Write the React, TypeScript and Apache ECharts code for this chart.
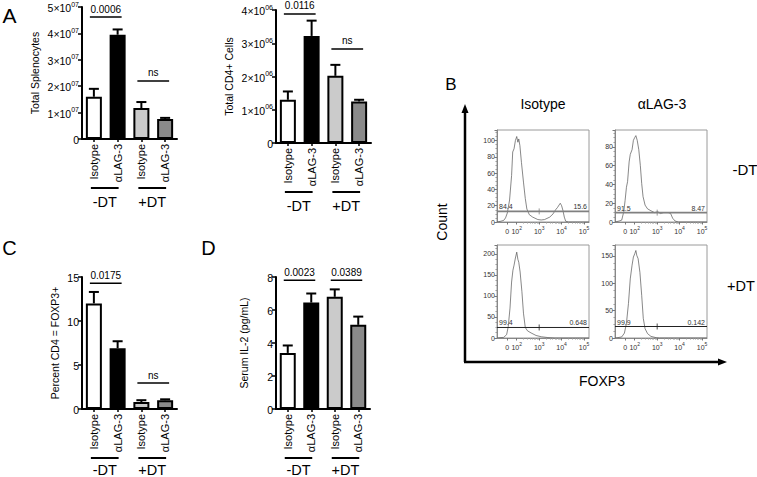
import React, { useEffect, useRef } from 'react';
import * as echarts from 'echarts';

const FONT = '"Liberation Sans", Arial, Helvetica, sans-serif';

// ---- bar panels (A, C, D) ----
const categories = ['Isotype', 'αLAG-3', 'Isotype', 'αLAG-3'];
const treatmentGroups = ['-DT', '+DT'];
const treatmentSpans = [[0, 1], [2, 3]];

const splenocyteMean = [1.6e7, 3.95e7, 1.17e7, 0.76e7];
const splenocyteUpper = [1.9e7, 4.15e7, 1.4e7, 0.8e7];
const cd4Mean = [1.3e6, 3.22e6, 2.02e6, 1.25e6];
const cd4Upper = [1.55e6, 3.68e6, 2.35e6, 1.3e6];
const foxp3Mean = [12.0, 6.9, 0.8, 1.0];
const foxp3Upper = [13.3, 7.7, 1.0, 1.1];
const il2Mean = [3.4, 6.45, 6.8, 5.1];
const il2Upper = [3.85, 7.0, 7.25, 5.6];

const splenocyteSig = [[0, 1, 4.62e7], [2, 3, 2.2e7]];
const splenocyteSigText = ['0.0006', 'ns'];
const cd4Sig = [[0, 1, 3.88e6], [2, 3, 2.83e6]];
const cd4SigText = ['0.0116', 'ns'];
const foxp3Sig = [[0, 1, 14.3], [2, 3, 2.95]];
const foxp3SigText = ['0.0175', 'ns'];
const il2Sig = [[0, 1, 7.8], [2, 3, 7.8]];
const il2SigText = ['0.0023', '0.0389'];

const barColors = ['#ffffff', '#000000', '#cbcbcb', '#8a8a8a'];

// ---- flow panels (B) ----
const flowColumns = ['Isotype', 'αLAG-3'];
const flowRows = ['-DT', '+DT'];
const flowXMin = 1.12;
const flowXMax = 5.22;
const flowXTicks = [1.58, 2, 3, 4, 5];
const flowXTickText = ['0', '10^2', '10^3', '10^4', '10^5'];
const flowYMax = [113, 98, 221, 170];
const flowYInterval = [20, 20, 50, 50];
const gateLevels = [13, 10, 25, 21];
const gateLeftText = ['84.4', '91.5', '99.4', '99.9'];
const gateRightText = ['15.6', '8.47', '0.648', '0.142'];

const histIsotypeMinusDT = [
  [1.12, 0], [1.3, 1], [1.42, 2], [1.5, 5], [1.58, 11], [1.68, 27], [1.77, 57], [1.82, 86],
  [1.88, 90], [1.94, 100], [2.0, 105], [2.05, 98], [2.09, 102], [2.14, 94], [2.21, 73],
  [2.3, 49], [2.38, 29], [2.45, 16], [2.56, 9], [2.71, 6], [2.94, 3], [3.09, 2.5], [3.24, 3],
  [3.47, 6], [3.62, 10], [3.73, 15], [3.82, 18], [3.89, 21], [3.94, 23], [4.0, 20],
  [4.06, 14], [4.12, 6], [4.18, 1], [4.3, 0], [5.22, 0],
];
const histLag3MinusDT = [
  [1.12, 0], [1.3, 1], [1.42, 2], [1.51, 11], [1.57, 23], [1.63, 37], [1.68, 43], [1.75, 64],
  [1.8, 72], [1.88, 77], [1.94, 87], [2.0, 90], [2.05, 92], [2.11, 87], [2.18, 77],
  [2.25, 60], [2.31, 41], [2.37, 27], [2.46, 18], [2.57, 14], [2.72, 12], [2.88, 10],
  [3.03, 11], [3.14, 9], [3.29, 10], [3.49, 10], [3.6, 9], [3.69, 4], [3.8, 1], [3.95, 0],
  [5.22, 0],
];
const histIsotypePlusDT = [
  [1.12, 0], [1.3, 1], [1.42, 1.5], [1.55, 8], [1.62, 27], [1.7, 71], [1.77, 133], [1.83, 161],
  [1.88, 173], [1.94, 190], [2.0, 204], [2.05, 187], [2.09, 180], [2.15, 157], [2.23, 110],
  [2.3, 59], [2.38, 25], [2.48, 17], [2.64, 12], [2.86, 6], [3.09, 3], [3.39, 1], [3.7, 0],
  [5.22, 0],
];
const histLag3PlusDT = [
  [1.12, 0], [1.3, 1], [1.42, 2], [1.54, 9], [1.63, 27], [1.72, 63], [1.8, 108], [1.88, 133],
  [1.94, 148], [2.0, 154], [2.05, 160], [2.09, 151], [2.15, 145], [2.23, 120], [2.31, 78],
  [2.38, 36], [2.46, 17], [2.57, 8], [2.72, 3], [2.95, 0.6], [3.1, 0], [5.22, 0],
];

function buildOption(): any {
  const barPanels = [
    { mean: splenocyteMean, upper: splenocyteUpper, sig: splenocyteSig, sigText: splenocyteSigText,
      max: 5e7, interval: 1e7, name: 'Total Splenocytes', nameGap: 42, exp: '07', div: 1e7, textOffset: 14,
      grid: { left: 82, top: 7, width: 95, height: 132 } },
    { mean: cd4Mean, upper: cd4Upper, sig: cd4Sig, sigText: cd4SigText,
      max: 4e6, interval: 1e6, name: 'Total CD4+ Cells', nameGap: 42, exp: '06', div: 1e6, textOffset: 14,
      grid: { left: 276, top: 10, width: 95, height: 133 } },
    { mean: foxp3Mean, upper: foxp3Upper, sig: foxp3Sig, sigText: foxp3SigText,
      max: 15, interval: 5, name: 'Percent CD4 = FOXP3+', nameGap: 22, exp: '', div: 1, textOffset: 11.5,
      grid: { left: 82, top: 277, width: 95, height: 132 } },
    { mean: il2Mean, upper: il2Upper, sig: il2Sig, sigText: il2SigText,
      max: 8, interval: 2, name: 'Serum IL-2 (pg/mL)', nameGap: 27, exp: '', div: 1, textOffset: 11.5,
      grid: { left: 276, top: 277, width: 94, height: 132 } },
  ];
  const flowPlots = [
    { data: histIsotypeMinusDT, grid: { left: 497, top: 130, width: 92, height: 92 }, gateColor: '#808080', gateWidth: 1.6 },
    { data: histLag3MinusDT, grid: { left: 615, top: 130, width: 92, height: 92 }, gateColor: '#808080', gateWidth: 1.6 },
    { data: histIsotypePlusDT, grid: { left: 497, top: 245, width: 92, height: 93 }, gateColor: '#222', gateWidth: 1 },
    { data: histLag3PlusDT, grid: { left: 615, top: 245, width: 92, height: 93 }, gateColor: '#222', gateWidth: 1 },
  ];

  const grid: any[] = [];
  const xAxis: any[] = [];
  const yAxis: any[] = [];
  const series: any[] = [];

  barPanels.forEach((p, i) => {
    grid.push({ ...p.grid, show: false, containLabel: false });
    xAxis.push({
      type: 'category', gridIndex: i, data: categories,
      axisLine: { show: true, lineStyle: { color: '#000', width: 2 } },
      axisTick: { show: true, alignWithLabel: true, length: 3, lineStyle: { color: '#000', width: 1.5 } },
      axisLabel: { rotate: 90, interval: 0, fontSize: 11, color: '#000', margin: 5, fontFamily: FONT },
      splitLine: { show: false },
    });
    yAxis.push({
      type: 'value', gridIndex: i, min: 0, max: p.max, interval: p.interval,
      axisLine: { show: true, lineStyle: { color: '#000', width: 2 } },
      axisTick: { show: true, length: 4, lineStyle: { color: '#000', width: 1.5 } },
      splitLine: { show: false },
      axisLabel: {
        color: '#000', margin: 3, fontFamily: FONT, fontSize: 10,
        formatter: (v: number) => {
          if (!p.exp || v === 0) return '{b|' + v + '}';
          return '{b|' + Math.round(v / p.div) + '×10}{s|' + p.exp + '}';
        },
        rich: {
          b: { fontSize: 10.5, lineHeight: 13, verticalAlign: 'bottom', fontFamily: FONT, color: '#000' },
          s: { fontSize: 7, lineHeight: 13, verticalAlign: 'top', fontFamily: FONT, color: '#000' },
        },
      },
      name: p.name, nameLocation: 'middle', nameRotate: 90, nameGap: p.nameGap,
      nameTextStyle: { fontSize: 10.5, color: '#000', fontFamily: FONT },
    });
    series.push({
      type: 'bar', xAxisIndex: i, yAxisIndex: i, barWidth: 16, z: 2,
      data: p.mean.map((v, k) => ({
        value: v,
        itemStyle: { color: barColors[k], borderColor: '#000', borderWidth: 2 },
      })),
    });
    series.push({
      type: 'custom', xAxisIndex: i, yAxisIndex: i, z: 3,
      data: p.mean.map((m, k) => [k, m, p.upper[k]]),
      encode: { x: 0, y: [1, 2] },
      renderItem: (params: any, api: any) => {
        const base = api.coord([api.value(0), api.value(1)]);
        const top = api.coord([api.value(0), api.value(2)]);
        return {
          type: 'group',
          children: [
            { type: 'line', shape: { x1: base[0], y1: base[1], x2: top[0], y2: top[1] }, style: { stroke: '#000', lineWidth: 2 } },
            { type: 'line', shape: { x1: top[0] - 5, y1: top[1], x2: top[0] + 5, y2: top[1] }, style: { stroke: '#000', lineWidth: 2 } },
          ],
        };
      },
    });
    series.push({
      type: 'custom', xAxisIndex: i, yAxisIndex: i, z: 3,
      data: p.sig,
      encode: { x: [0, 1], y: 2 },
      renderItem: (params: any, api: any) => {
        const a = api.coord([api.value(0), api.value(2)]);
        const b = api.coord([api.value(1), api.value(2)]);
        return {
          type: 'group',
          children: [
            { type: 'line', shape: { x1: a[0] - 4, y1: a[1], x2: b[0] + 4, y2: b[1] }, style: { stroke: '#000', lineWidth: 1.5 } },
            { type: 'text', x: (a[0] + b[0]) / 2, y: a[1] - 3,
              style: { text: p.sigText[params.dataIndex], fontSize: 10, fontFamily: FONT, fill: '#000', align: 'center', verticalAlign: 'bottom' } },
          ],
        };
      },
    });
    series.push({
      type: 'custom', xAxisIndex: i, yAxisIndex: i, z: 3,
      data: treatmentSpans,
      encode: { x: [0, 1] },
      renderItem: (params: any, api: any) => {
        const a = api.coord([api.value(0), 0]);
        const b = api.coord([api.value(1), 0]);
        const y = a[1] + 49;
        return {
          type: 'group',
          children: [
            { type: 'line', shape: { x1: a[0] - 3, y1: y, x2: b[0] + 1, y2: y }, style: { stroke: '#000', lineWidth: 2 } },
            { type: 'text', x: (a[0] + b[0]) / 2 - 1, y: y + p.textOffset,
              style: { text: treatmentGroups[params.dataIndex], fontSize: 14.5, fontFamily: FONT, fill: '#000', align: 'center', verticalAlign: 'middle' } },
          ],
        };
      },
    });
  });

  const minorX: number[] = [];
  for (let n = 2; n <= 4; n++) for (let k = 2; k <= 9; k++) minorX.push(n + Math.log10(k));

  flowPlots.forEach((f, j) => {
    const gi = 4 + j;
    grid.push({ ...f.grid, show: true, borderColor: '#9a9a9a', borderWidth: 1, backgroundColor: 'transparent' });
    xAxis.push({
      type: 'value', gridIndex: gi, min: flowXMin, max: flowXMax, position: 'bottom',
      axisLine: { show: true, onZero: false, lineStyle: { color: '#888', width: 1 } },
      axisTick: { show: true, customValues: flowXTicks, length: 2.5, lineStyle: { color: '#777' } },
      splitLine: { show: false },
      axisLabel: {
        customValues: flowXTicks, margin: 3,
        formatter: (v: number) => {
          const idx = flowXTicks.findIndex((t) => Math.abs(t - v) < 1e-6);
          const t = idx >= 0 ? flowXTickText[idx] : '';
          const parts = t.split('^');
          return parts.length > 1 ? '{b|' + parts[0] + '}{s|' + parts[1] + '}' : '{b|' + t + '}';
        },
        rich: {
          b: { fontSize: 7, lineHeight: 10, verticalAlign: 'bottom', color: '#333', fontFamily: FONT },
          s: { fontSize: 5, lineHeight: 10, verticalAlign: 'top', color: '#333', fontFamily: FONT },
        },
      },
    });
    yAxis.push({
      type: 'value', gridIndex: gi, min: 0, max: flowYMax[j], interval: flowYInterval[j],
      axisLine: { show: true, onZero: false, lineStyle: { color: '#888', width: 1 } },
      axisTick: { show: true, length: 2.5, lineStyle: { color: '#777' } },
      minorTick: { show: true, splitNumber: 4, length: 1.5, lineStyle: { color: '#999' } },
      splitLine: { show: false },
      axisLabel: { fontSize: 7, color: '#333', margin: 2, showMaxLabel: false, fontFamily: FONT },
    });
    series.push({
      type: 'line', xAxisIndex: xAxis.length - 1, yAxisIndex: gi, data: f.data,
      showSymbol: false, symbol: 'none', lineStyle: { color: '#555', width: 0.7 }, z: 2,
    });
    series.push({
      type: 'custom', xAxisIndex: xAxis.length - 1, yAxisIndex: gi, z: 3,
      data: [[3, gateLevels[j]]],
      renderItem: (params: any, api: any) => {
        const cs = params.coordSys;
        const p = api.coord([api.value(0), api.value(1)]);
        const st = { fontSize: 7, fontFamily: FONT, fill: '#333', verticalAlign: 'bottom' };
        return {
          type: 'group',
          children: [
            { type: 'line', shape: { x1: cs.x, y1: p[1], x2: cs.x + cs.width, y2: p[1] }, style: { stroke: f.gateColor, lineWidth: f.gateWidth } },
            { type: 'line', shape: { x1: p[0], y1: p[1] - 3, x2: p[0], y2: p[1] + 3 }, style: { stroke: f.gateColor, lineWidth: 0.8 } },
            { type: 'text', x: cs.x + 2, y: p[1] - 1, style: { ...st, text: gateLeftText[j], align: 'left' } },
            { type: 'text', x: cs.x + cs.width - 2, y: p[1] - 1, style: { ...st, text: gateRightText[j], align: 'right' } },
          ],
        };
      },
    });
  });

  // minor ticks for flow x axes
  flowPlots.forEach((f, j) => {
    xAxis.push({
      type: 'value', gridIndex: 4 + j, min: flowXMin, max: flowXMax, position: 'bottom',
      axisLine: { show: false }, axisLabel: { show: false }, splitLine: { show: false },
      axisTick: { show: true, customValues: minorX, length: 1.5, lineStyle: { color: '#999' } },
    });
  });

  const txt = (text: string, x: number, y: number, fontSize: number, extra: any = {}) => ({
    type: 'text', x, y, ...extra,
    style: { text, fontSize, fontFamily: FONT, fill: '#000', align: 'center', verticalAlign: 'middle' },
  });

  const graphic = [
    txt('A', 9.5, 15, 21),
    txt('C', 9.5, 248, 20),
    txt('D', 208.5, 248, 20),
    txt('B', 451, 84, 17),
    txt(flowColumns[0], 543, 104, 14),
    txt(flowColumns[1], 662, 104, 14),
    txt(flowRows[0], 745, 169, 15),
    txt(flowRows[1], 741, 286, 14.5),
    txt('Count', 441.5, 222, 14, { rotation: Math.PI / 2 }),
    txt('FOXP3', 602, 381, 14),
    { type: 'line', shape: { x1: 465, y1: 110, x2: 465, y2: 362 }, style: { stroke: '#000', lineWidth: 2.5 } },
    { type: 'polygon', shape: { points: [[465, 104], [461.5, 113], [468.5, 113]] }, style: { fill: '#000' } },
    { type: 'line', shape: { x1: 464, y1: 362, x2: 720, y2: 362 }, style: { stroke: '#000', lineWidth: 2.5 } },
    { type: 'polygon', shape: { points: [[727, 362], [718, 358.5], [718, 365.5]] }, style: { fill: '#000' } },
  ];

  return {
    animation: false,
    backgroundColor: '#ffffff',
    textStyle: { fontFamily: FONT },
    grid, xAxis, yAxis, series, graphic,
  };
}

export default function App() {
  const ref = useRef<HTMLDivElement>(null);
  useEffect(() => {
    const chart = echarts.init(ref.current!, null, { renderer: 'svg' });
    chart.setOption(buildOption());
    return () => chart.dispose();
  }, []);
  return <div ref={ref} style={{ position: 'absolute', left: 0, top: 0, width: 757, height: 477 }} />;
}
